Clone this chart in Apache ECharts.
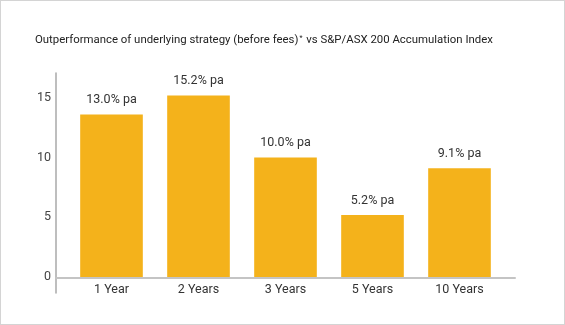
<!DOCTYPE html>
<html><head><meta charset="utf-8">
<script src="https://cdn.jsdelivr.net/npm/echarts@6/dist/echarts.min.js"></script>
<style>html,body{margin:0;padding:0;background:#fff}#c{width:563px;height:323px;border:1px solid #d4d4d4}</style>
</head><body><div id="c"></div>
<script>
const categories = ['1 Year','2 Years','3 Years','5 Years','10 Years'];
const values = [13.6, 15.2, 10.0, 5.2, 9.1];
const labels = ['13.0% pa','15.2% pa','10.0% pa','5.2% pa','9.1% pa'];

const chart = echarts.init(document.getElementById('c'));
const font = 'Roboto';
chart.setOption({
  animation: false,
  title: {
    text: 'Outperformance of underlying strategy (before fees){s|*} vs S&P/ASX 200 Accumulation Index',
    left: 29, top: 29,
    textStyle: {fontFamily: font, fontSize: 11.4, fontWeight: 'normal', color: '#222',
      rich: {s: {fontFamily: font, fontSize: 7, color: '#222', verticalAlign: 'top', lineHeight: 9, padding:[0,1,5,1]}}}
  },
  grid: [
    {left: 67, right: 61, top: 73, bottom: 47},
    {left: 55, right: 49, top: 72, bottom: 31}
  ],
  xAxis: [
    {type: 'category', data: categories, gridIndex: 0,
     axisLine: {show: false}, axisTick: {show: false},
     axisLabel: {fontFamily: font, fontSize: 12.5, color: '#333', margin: 6}},
    {type: 'value', gridIndex: 1, min: 0, max: 1,
     axisLine: {show: true, onZero: true, lineStyle: {color: '#c4c4c4', width: 2}},
     axisTick: {show: false}, axisLabel: {show: false}, splitLine: {show: false}}
  ],
  yAxis: [
    {type: 'value', gridIndex: 0, min: 0, max: 17, interval: 5,
     axisLine: {show: false}, axisTick: {show: false}, splitLine: {show: false},
     axisLabel: {fontFamily: font, fontSize: 12.5, color: '#444', margin: 17, showMaxLabel: false}},
    {type: 'value', gridIndex: 1, min: -1.24, max: 17.04,
     axisLine: {show: true, lineStyle: {color: '#a8a8a8', width: 1.5}},
     axisTick: {show: false}, axisLabel: {show: false}, splitLine: {show: false}}
  ],
  series: [{
    type: 'bar', xAxisIndex: 0, yAxisIndex: 0,
    data: values, barCategoryGap: '28%',
    itemStyle: {color: '#F4B21B'},
    label: {show: true, position: 'top', distance: 8,
      formatter: p => labels[p.dataIndex],
      fontFamily: font, fontSize: 12.5, color: '#333'}
  }]
});
</script></body></html>
